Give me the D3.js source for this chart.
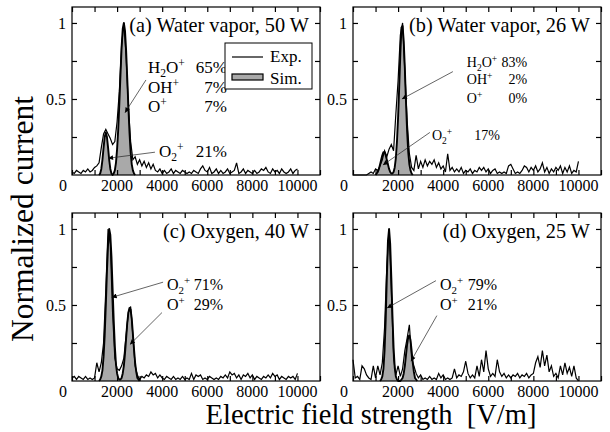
<!DOCTYPE html>
<html>
<head>
<meta charset="utf-8">
<script src="https://cdn.jsdelivr.net/npm/d3@7/dist/d3.min.js"></script>
<style>
  body { margin: 0; background: #fff; }
  svg { display: block; }
</style>
</head>
<body>
<div id="chart"></div>
<script>
// ---- data ----
// experimental curves, sampled every 100 V/m from 0 to 10000
var expStep = 100;
var expA = [
  0.02, 0.01, 0.03, 0.02, 0.01, 0.03, 0.02, 0.04, 0.02, 0.03,
  0.05, 0.06, 0.08, 0.18, 0.27, 0.30, 0.27, 0.24, 0.20, 0.22,
  0.35, 0.55, 0.85, 1.00, 0.78, 0.45, 0.22, 0.10, 0.12, 0.07,
  0.10, 0.06, 0.09, 0.05, 0.08, 0.04, 0.07, 0.03, 0.02, 0.04,
  0.01, 0.03, 0.01, 0.02, 0.04, 0.01, 0.03, 0.02, 0.01, 0.03,
  0.02, 0.01, 0.02, 0.01, 0.03, 0.02, 0.01, 0.04, 0.06, 0.03,
  0.02, 0.05, 0.01, 0.02, 0.04, 0.01, 0.03, 0.01, 0.02, 0.04,
  0.01, 0.02, 0.03, 0.08, 0.01, 0.02, 0.04, 0.01, 0.03, 0.02,
  0.01, 0.03, 0.01, 0.02, 0.04, 0.03, 0.05, 0.02, 0.01, 0.04,
  0.02, 0.03, 0.01, 0.04, 0.02, 0.01, 0.02, 0.04, 0.01, 0.03,
  0.04
];
var expB = [
  0, 0, 0, 0, 0, 0, 0, 0.01, 0.02, 0.01,
  0.04, 0.03, 0.06, 0.10, 0.16, 0.12, 0.17, 0.20, 0.16, 0.40,
  0.62, 0.92, 1.00, 0.68, 0.36, 0.14, 0.05, 0.03, 0.13, 0.04,
  0.09, 0.05, 0.10, 0.06, 0.09, 0.07, 0.10, 0.05, 0.08, 0.04,
  0.06, 0.02, 0.14, 0.03, 0.05, 0.02, 0.04, 0.02, 0.05, 0.01,
  0.03, 0.02, 0.04, 0.01, 0.03, 0.02, 0.05, 0.03, 0.05, 0.02,
  0.04, 0.01, 0.03, 0.04, 0.01, 0.02, 0.01, 0.02, 0.01, 0.06,
  0.07, 0.04, 0.01, 0.02, 0.01, 0.03, 0.06, 0.05, 0.02, 0.05,
  0.03, 0.06, 0.02, 0.04, 0.08, 0.02, 0.05, 0.01, 0.04, 0.02,
  0.05, 0.03, 0.06, 0.01, 0.05, 0.02, 0.06, 0.01, 0.03, 0.02,
  0.09
];
var expC = [
  0.02, 0.03, 0.01, 0.03, 0.02, 0.01, 0.03, 0.01, 0.02, 0.01,
  0.02, 0.12, 0.06, 0.12, 0.25, 0.60, 1.00, 0.90, 0.45, 0.15,
  0.08, 0.07, 0.10, 0.15, 0.30, 0.45, 0.49, 0.30, 0.10, 0.04,
  0.01, 0.03, 0.02, 0.04, 0.03, 0.06, 0.04, 0.05, 0.02, 0.04,
  0.02, 0.01, 0.03, 0.02, 0.01, 0.03, 0.01, 0.02, 0.01, 0.03,
  0.01, 0.02, 0.01, 0.05, 0.01, 0.04, 0.03, 0.04, 0.01, 0.02,
  0.01, 0.03, 0.02, 0.01, 0.02, 0.01, 0.03, 0.02, 0.04, 0.02,
  0.06, 0.04, 0.05, 0.02, 0.04, 0.01, 0.04, 0.03, 0.05, 0.02,
  0.04, 0.01, 0.03, 0.02, 0.01, 0.03, 0.02, 0.04, 0.02, 0.05,
  0.03, 0.04, 0.01, 0.03, 0.02, 0.01, 0.03, 0.02, 0.03, 0.01,
  0.05
];
var expD = [
  0.14, 0.02, 0.03, 0.01, 0.10, 0.08, 0.04, 0.02, 0.01, 0.10,
  0.02, 0.10, 0.04, 0.12, 0.35, 0.75, 1.00, 0.60, 0.15, 0.04,
  0.10, 0.03, 0.08, 0.20, 0.28, 0.37, 0.15, 0.10, 0.05, 0.02,
  0.04, 0.01, 0.02, 0.01, 0.03, 0.01, 0.02, 0.01, 0.05, 0.02,
  0.04, 0.01, 0.02, 0.01, 0.02, 0.08, 0.02, 0.04, 0.03, 0.06,
  0.13, 0.05, 0.02, 0.04, 0.02, 0.10, 0.03, 0.14, 0.06, 0.20,
  0.08, 0.03, 0.05, 0.03, 0.14, 0.06, 0.03, 0.05, 0.02, 0.04,
  0.02, 0.04, 0.03, 0.05, 0.02, 0.04, 0.03, 0.05, 0.02, 0.04,
  0.05, 0.12, 0.16, 0.09, 0.20, 0.10, 0.17, 0.06, 0.10, 0.03,
  0.05, 0.02, 0.10, 0.04, 0.12, 0.05, 0.09, 0.03, 0.10, 0.02,
  0
];

// simulated (summed) curves, sampled every 50 V/m from the given start
var simStep = 50;
var simStartA = 1200;
var simA = [0, 0.01, 0.04, 0.10, 0.18, 0.25, 0.28, 0.25, 0.18, 0.10, 0.04, 0.01, 0,
  0.01, 0.03, 0.08, 0.17, 0.30, 0.47, 0.66, 0.84, 0.96, 1.00, 0.95, 0.82, 0.64,
  0.45, 0.28, 0.15, 0.07, 0.03, 0.01, 0];
var simStartB = 1000;
var simB = [0, 0.01, 0.02, 0.04, 0.07, 0.10, 0.13, 0.15, 0.15, 0.13, 0.10, 0.07,
  0.04, 0.02, 0.01, 0.01, 0.02, 0.05, 0.11, 0.22, 0.38, 0.58, 0.80, 0.97, 0.98,
  0.88, 0.70, 0.48, 0.29, 0.15, 0.07, 0.03, 0.01, 0];
var simStartC = 1200;
var simC = [0, 0.01, 0.03, 0.07, 0.16, 0.30, 0.50, 0.72, 0.90, 1.00, 0.96, 0.82,
  0.61, 0.40, 0.23, 0.11, 0.05, 0.02, 0.01, 0.01, 0.02, 0.05, 0.10, 0.18, 0.28,
  0.38, 0.45, 0.48, 0.47, 0.41, 0.31, 0.21, 0.12, 0.06, 0.02, 0.01, 0];
var simStartD = 1200;
var simD = [0, 0.01, 0.03, 0.08, 0.20, 0.40, 0.68, 0.92, 1.00, 0.90, 0.68, 0.43,
  0.22, 0.09, 0.03, 0.01, 0, 0, 0, 0.01, 0.02, 0.05, 0.10, 0.17, 0.24, 0.29,
  0.30, 0.27, 0.20, 0.12, 0.06, 0.02, 0.01, 0];

var titles = ["(a) Water vapor, 50 W", "(b) Water vapor, 26 W", "(c) Oxygen, 40 W", "(d) Oxygen, 25 W"];

// ion fractions; "_" = subscript next char, "^" = superscript next char
var ionsA = ["H_2O^+", "OH^+", "O^+", "O_2^+"], pctA = ["65%", "7%", "7%", "21%"];
var ionsB = ["H_2O^+", "OH^+", "O^+", "O_2^+"], pctB = ["83%", "2%", "0%", "17%"];
var ionsC = ["O_2^+", "O^+"], pctC = ["71%", "29%"];
var ionsD = ["O_2^+", "O^+"], pctD = ["79%", "21%"];

var xTicks = [2000, 4000, 6000, 8000, 10000];
var yTicks = [0.5, 1];
var legendItems = ["Exp.", "Sim."];

// ---- layout ----
var width = 610, height = 432;
var pw = 248, ph = 168;
var origins = [[72, 7], [353, 7], [72, 213], [353, 213]];
var annotFont = [17, 14, 16, 16];

// annotation placement per panel, in data units: [x of label, y of baseline, x of % right edge]
var annotPos = [
  [[3370, 0.67, 6870], [3370, 0.54, 6870], [3370, 0.415, 6870], [3860, 0.12, 6870]],
  [[5050, 0.71, 7720], [5050, 0.60, 7720], [5050, 0.475, 7720], [3500, 0.23, 6520]],
  [[4210, 0.60, 6700], [4210, 0.47, 6700]],
  [[3860, 0.60, 6390], [3860, 0.47, 6390]]
];
// pointer lines: [fromX, fromY, toX, toY] in data units
var pointers = [
  [[3280, 0.625, 2350, 0.41], [3680, 0.15, 1600, 0.11]],
  [[4430, 0.68, 2170, 0.50], [3410, 0.28, 1330, 0.066]],
  [[4040, 0.65, 1760, 0.55], [3990, 0.45, 2570, 0.24]],
  [[3680, 0.66, 1510, 0.48], [3720, 0.43, 2570, 0.13]]
];

var panels = [
  { exp: expA, sim: simA, simStart: simStartA, ions: ionsA, pct: pctA },
  { exp: expB, sim: simB, simStart: simStartB, ions: ionsB, pct: pctB },
  { exp: expC, sim: simC, simStart: simStartC, ions: ionsC, pct: pctC },
  { exp: expD, sim: simD, simStart: simStartD, ions: ionsD, pct: pctD }
];

var svg = d3.select("#chart").append("svg")
  .attr("width", width)
  .attr("height", height)
  .attr("font-family", "'Liberation Serif', 'Times New Roman', Times, serif");

svg.append("defs").append("marker")
  .attr("id", "arrow")
  .attr("viewBox", "0 0 10 10")
  .attr("refX", 10).attr("refY", 5)
  .attr("markerWidth", 7).attr("markerHeight", 5)
  .attr("markerUnits", "userSpaceOnUse")
  .attr("orient", "auto")
  .append("path")
  .attr("d", "M0,0L10,5L0,10Z")
  .attr("fill", "#000");

var x = d3.scaleLinear().domain([0, 11000]).range([0, pw]);
var y = d3.scaleLinear().domain([0, 1.105]).range([ph, 0]);

// writes an ion formula into a text element with sub/superscripts
function addIon(sel, ion, fs) {
  for (var i = 0; i < ion.length; i++) {
    var c = ion[i];
    if (c === "_" || c === "^") {
      sel.append("tspan")
        .attr("font-size", fs * 0.68)
        .attr("baseline-shift", c === "_" ? -fs * 0.25 : fs * 0.38)
        .text(ion[i + 1]);
      i++;
    } else {
      sel.append("tspan").text(c);
    }
  }
}

panels.forEach(function (p, k) {
  var g = svg.append("g")
    .attr("transform", "translate(" + origins[k][0] + "," + origins[k][1] + ")");

  // simulated curve: grey fill with heavy outline
  var simPts = p.sim.map(function (v, i) { return [p.simStart + i * simStep, v]; });
  g.append("path")
    .datum(simPts)
    .attr("d", d3.area().x(d => x(d[0])).y0(y(0)).y1(d => y(d[1])))
    .attr("fill", "#a9a9a9");
  g.append("path")
    .datum(simPts)
    .attr("d", d3.line().x(d => x(d[0])).y(d => y(d[1])))
    .attr("fill", "none")
    .attr("stroke", "#000")
    .attr("stroke-width", 1.9)
    .attr("stroke-linejoin", "round");

  // experimental curve
  g.append("path")
    .datum(p.exp.map(function (v, i) { return [i * expStep, v]; }))
    .attr("d", d3.line().x(d => x(d[0])).y(d => y(d[1])))
    .attr("fill", "none")
    .attr("stroke", "#000")
    .attr("stroke-width", 1.2);

  // frame with inward ticks on all sides
  g.append("rect")
    .attr("width", pw).attr("height", ph)
    .attr("fill", "none").attr("stroke", "#000").attr("stroke-width", 1.2);
  var tk = 5;
  g.append("g").call(d3.axisTop(x).ticks(11).tickSize(-tk).tickFormat(""))
    .call(s => s.select(".domain").remove());
  g.append("g").attr("transform", "translate(0," + ph + ")")
    .call(d3.axisBottom(x).ticks(11).tickSize(-tk).tickFormat(""))
    .call(s => s.select(".domain").remove());
  g.append("g").call(d3.axisLeft(y).tickValues([0.25, 0.5, 0.75, 1]).tickSize(-tk).tickFormat(""))
    .call(s => s.select(".domain").remove());
  g.append("g").attr("transform", "translate(" + pw + ",0)")
    .call(d3.axisRight(y).tickValues([0.25, 0.5, 0.75, 1]).tickSize(-tk).tickFormat(""))
    .call(s => s.select(".domain").remove());
  g.selectAll(".tick line").attr("stroke", "#000").attr("stroke-width", 1.2);

  // tick labels
  g.selectAll(".xl").data(xTicks).enter().append("text")
    .attr("x", d => x(d)).attr("y", ph + 16)
    .attr("text-anchor", "middle").attr("font-size", 16)
    .text(d => d);
  g.append("text")
    .attr("x", -9).attr("y", ph + 16)
    .attr("text-anchor", "middle").attr("font-size", 16)
    .text("0");
  g.selectAll(".yl").data(yTicks).enter().append("text")
    .attr("x", -6).attr("y", d => y(d)).attr("dy", "0.35em")
    .attr("text-anchor", "end").attr("font-size", 16)
    .text(d => d);

  // panel title
  g.append("text")
    .attr("x", pw - 11).attr("y", 25)
    .attr("text-anchor", "end").attr("font-size", 20.3)
    .text(titles[k]);

  // pointer lines
  pointers[k].forEach(function (a) {
    g.append("line")
      .attr("x1", x(a[0])).attr("y1", y(a[1]))
      .attr("x2", x(a[2])).attr("y2", y(a[3]))
      .attr("stroke", "#222").attr("stroke-width", 0.7)
      .attr("marker-end", "url(#arrow)");
  });

  // ion labels
  var fs = annotFont[k];
  p.ions.forEach(function (ion, i) {
    var pos = annotPos[k][i];
    var t = g.append("text")
      .attr("x", x(pos[0])).attr("y", y(pos[1]))
      .attr("font-size", fs);
    addIon(t, ion, fs);
    g.append("text")
      .attr("x", x(pos[2])).attr("y", y(pos[1]))
      .attr("text-anchor", "end").attr("font-size", fs)
      .text(p.pct[i]);
  });

  // legend only in panel (a)
  if (k === 0) {
    var lg = g.append("g").attr("transform", "translate(153,36)");
    lg.append("rect").attr("width", 87).attr("height", 46)
      .attr("fill", "#fff").attr("stroke", "#000").attr("stroke-width", 1);
    lg.append("line").attr("x1", 7).attr("x2", 38).attr("y1", 14).attr("y2", 14)
      .attr("stroke", "#000").attr("stroke-width", 1.2);
    lg.append("rect").attr("x", 7).attr("y", 31).attr("width", 31).attr("height", 6)
      .attr("fill", "#a9a9a9").attr("stroke", "#000").attr("stroke-width", 1.2);
    lg.selectAll(".li").data(legendItems).enter().append("text")
      .attr("x", 45).attr("y", (d, i) => 19 + i * 22)
      .attr("font-size", 17)
      .text(d => d);
  }
});

// axis titles
svg.append("text")
  .attr("x", 371).attr("y", 424)
  .attr("text-anchor", "middle").attr("font-size", 28.5)
  .style("white-space", "pre")
  .text("Electric field strength  [V/m]");
svg.append("text")
  .attr("transform", "translate(33,219) rotate(-90)")
  .attr("text-anchor", "middle").attr("font-size", 31.5)
  .text("Normalized current");
</script>
</body>
</html>
